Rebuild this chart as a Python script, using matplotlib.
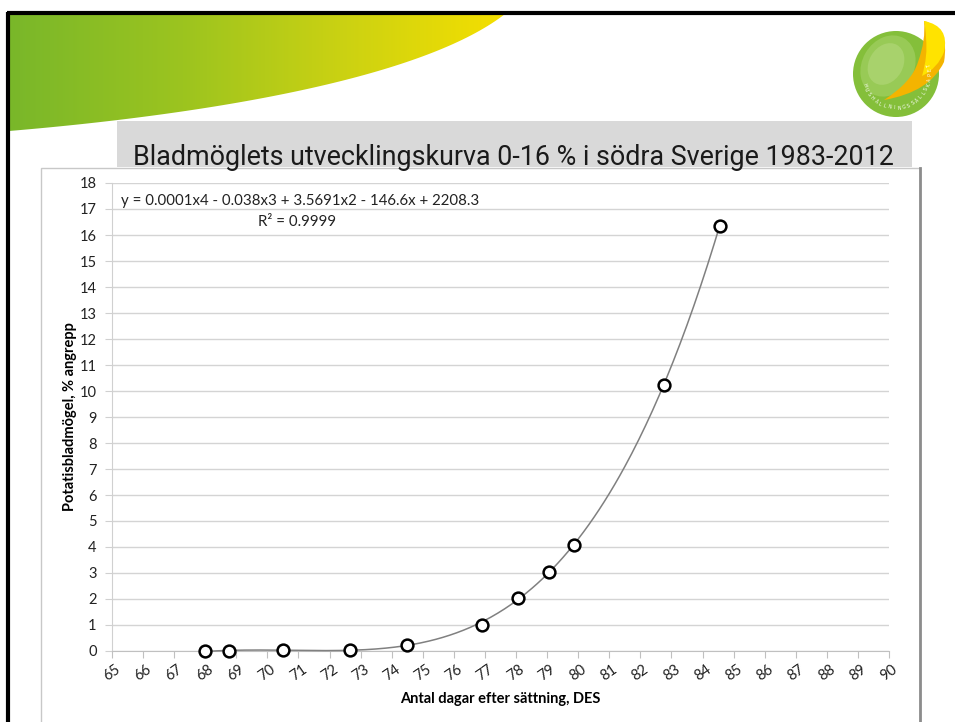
import numpy as np
import matplotlib
matplotlib.use("Agg")
import matplotlib.pyplot as plt
from matplotlib.patches import Polygon, Rectangle, Circle, Ellipse, PathPatch
from matplotlib.path import Path
from matplotlib.colors import LinearSegmentedColormap

# ---------------- data ----------------
days = [68.0, 68.75, 70.5, 72.65, 74.5, 76.9, 78.05, 79.05, 79.85, 82.75, 84.55]
attack = [0.0, 0.0, 0.02, 0.05, 0.25, 1.0, 2.03, 3.04, 4.08, 10.22, 16.35]
x_ticks = list(range(65, 91))
y_ticks = list(range(0, 19))
title = "Bladmöglets utvecklingskurva 0-16 % i södra Sverige 1983-2012"
equation = "y = 0.0001x4 - 0.038x3 + 3.5691x2 - 146.6x + 2208.3"
r2_text = "R² = 0.9999"
xlabel = "Antal dagar efter sättning, DES"
ylabel = "Potatisbladmögel, % angrepp"

W, H = 955, 722
fig = plt.figure(figsize=(W / 100, H / 100), dpi=100)
fig.patch.set_facecolor("white")

# ---------------- slide background ----------------
bg = fig.add_axes([0, 0, 1, 1], zorder=0)
bg.set_xlim(0, W)
bg.set_ylim(H, 0)
bg.axis("off")

# green/yellow swoosh
P0, P1, P2, P3 = np.array([505, 14]), np.array([420, 80]), np.array([200, 115]), np.array([9, 131])
t = np.linspace(0, 1, 80)[:, None]
curve = (1 - t) ** 3 * P0 + 3 * t * (1 - t) ** 2 * P1 + 3 * t ** 2 * (1 - t) * P2 + t ** 3 * P3
verts = np.vstack([[9, 14], curve])
swoosh = Polygon(verts, closed=True, facecolor="none", edgecolor="none")
bg.add_patch(swoosh)
cmap = LinearSegmentedColormap.from_list(
    "sw", [(0, "#79b72a"), (0.35, "#9cc41f"), (0.68, "#ccd212"), (1.0, "#f5df00")])
grad = np.linspace(0, 1, 256)[None, :]
im = bg.imshow(grad, extent=[9, 505, 131, 14], cmap=cmap, aspect="auto", zorder=1)
im.set_clip_path(swoosh)

# black slide border
bg.plot([8, 8], [12, H], color="black", lw=3, solid_capstyle="butt", zorder=5)
bg.plot([7, W], [13, 13], color="black", lw=3, solid_capstyle="butt", zorder=5)

# logo
cx, cy, r = 896, 74, 43
bg.add_patch(Circle((cx, cy), r, facecolor="#84bf3a", edgecolor="none", zorder=2))
bg.add_patch(Ellipse((cx - 8, cy - 8), 52, 64, angle=30, facecolor="#98ca56", edgecolor="none", zorder=3))
bg.add_patch(Ellipse((cx - 10, cy - 10), 34, 44, angle=30, facecolor="#a8d26c", edgecolor="none", zorder=3))
C3 = Path.CURVE3
leaf = Path([(924, 21), (950, 28), (944, 62), (930, 92), (884, 100),
             (912, 82), (918, 62), (926, 40), (924, 21)],
            [Path.MOVETO, C3, C3, C3, C3, C3, C3, C3, C3])
bg.add_patch(PathPatch(leaf, facecolor="#f4b400", edgecolor="none", zorder=4))
leaf2 = Path([(924, 21), (950, 26), (944, 52), (938, 68), (922, 76),
              (928, 56), (926, 38), (926, 30), (924, 21)],
             [Path.MOVETO, C3, C3, C3, C3, C3, C3, C3, C3])
bg.add_patch(PathPatch(leaf2, facecolor="#ffe300", edgecolor="none", zorder=4))
logo_txt = "HUSHÅLLNINGSSÄLLSKAPET"
angs = np.linspace(200, 375, len(logo_txt))
rr = 34
for ch, a in zip(logo_txt, angs):
    ar = np.deg2rad(a)
    px = cx + rr * np.cos(ar)
    py = cy - rr * np.sin(ar)
    bg.text(px, py, ch, fontsize=3.4, color="white", ha="center", va="center",
            rotation=a + 90, zorder=6, family="DejaVu Sans")

# title box
bg.add_patch(Rectangle((117, 121), 795, 46, facecolor="#d9d9d9", edgecolor="none", zorder=2))
# chart frame
bg.add_patch(Rectangle((41, 168), 879, 560, facecolor="white", edgecolor="#c8c8c8", lw=1, zorder=3))
bg.plot([920, 920], [168, H], color="#8c8c8c", lw=2, zorder=4)
bg.text(513, 165, title, fontsize=19.4, ha="center", va="baseline", color="#1a1a1a",
        family=["Roboto", "DejaVu Sans"], zorder=7)

# ---------------- chart ----------------
left, right = 112 / W, 889 / W
bottom, top = 1 - 651 / H, 1 - 183 / H
ax = fig.add_axes([left, bottom, right - left, top - bottom], zorder=2)
ax.set_facecolor("none")
ax.set_xlim(65, 90)
ax.set_ylim(0, 18)
ax.set_xticks(x_ticks)
ax.set_yticks(y_ticks)
ax.set_xticklabels([str(v) for v in x_ticks], rotation=35, ha="center", va="top",
                   family="Lato", fontsize=10.5, color="#222222")
ax.set_yticklabels([str(v) for v in y_ticks], family="Lato", fontsize=10.5, color="#222222")
ax.grid(axis="y", color="#d4d4d4", lw=1)
ax.set_axisbelow(True)
for s in ["top", "right"]:
    ax.spines[s].set_visible(False)
ax.spines["left"].set_color("#d0d0d0")
ax.spines["bottom"].set_color("#c0c0c0")
ax.tick_params(axis="x", length=5, color="#c0c0c0", pad=3)
ax.tick_params(axis="y", length=5, color="#d0d0d0", pad=6)

# polynomial trendline (order 4) fitted to the data
xd = np.array(days)
yd = np.array(attack)
coef = np.polyfit(xd - 75, yd, 4)
xs = np.linspace(xd.min(), xd.max(), 300)
ax.plot(xs, np.polyval(coef, xs - 75), color="#808080", lw=1.1, zorder=3, clip_on=False)
ax.plot(days, attack, linestyle="none", marker="o", markersize=8.5, markerfacecolor="white",
        markeredgecolor="black", markeredgewidth=1.8, zorder=4, clip_on=False)

ax.text(0.011, 0.9615, equation, transform=ax.transAxes, fontsize=10.8, family="Lato",
        ha="left", va="center", color="#222222")
ax.text(0.188, 0.917, r2_text, transform=ax.transAxes, fontsize=10.8, family="Lato",
        ha="left", va="center", color="#222222")

ax.set_xlabel(xlabel, family="Lato", fontsize=10.5, fontweight="bold", labelpad=6)
ax.set_ylabel(ylabel, family="Lato", fontsize=10.5, fontweight="bold", labelpad=2)

fig.savefig("out.png", dpi=100)
